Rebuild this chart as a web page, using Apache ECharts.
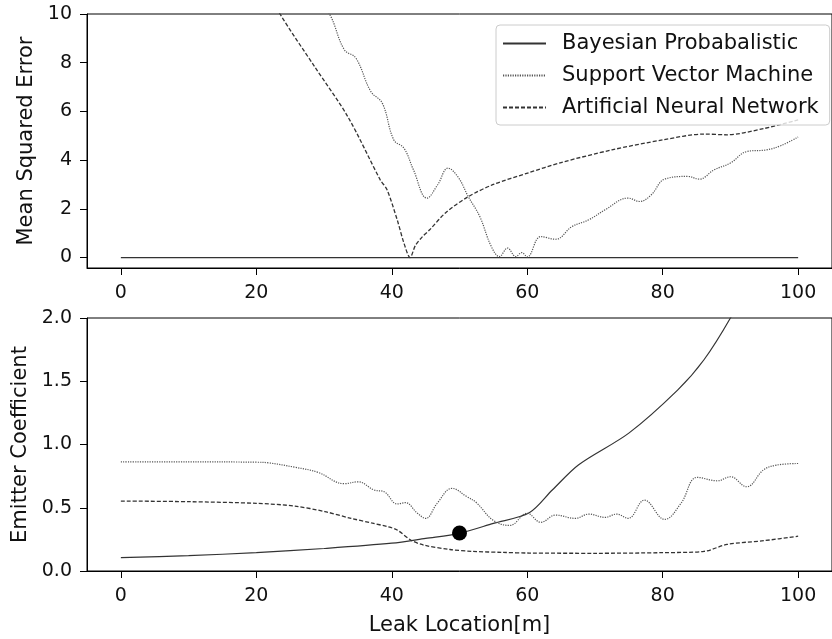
<!DOCTYPE html>
<html>
<head>
<meta charset="utf-8">
<script src="https://cdn.jsdelivr.net/npm/echarts@6/dist/echarts.min.js"></script>
<style>html,body{margin:0;padding:0;background:#fff}#c{width:832px;height:639px}</style>
</head>
<body>
<div id="c"></div>
<script>
// ---------- data ----------
const seriesNames = ['Bayesian Probabalistic', 'Support Vector Machine', 'Artificial Neural Network'];
const xTicks = [0, 20, 40, 60, 80, 100];
const mseTicks = [0, 2, 4, 6, 8, 10];
const ecTicks = [0, 0.5, 1.0, 1.5, 2.0];

// top panel: Mean Squared Error
const mseBayesX = [0, 100];
const mseBayesY = [0, 0];
const mseSvmX = [0, 10, 20, 28, 30.8, 33, 34.7, 36.9, 38.6, 40.3, 41.8, 43.2, 45.2, 46.8, 48.3, 49.8, 51.3, 53, 54.7, 55.9, 57.1, 58.3, 59.2, 60, 62, 64.2, 66.6, 69.1, 71.5, 74.9, 76.6, 78.3, 80.3, 83.7, 85.4, 87.6, 90, 92.4, 95.3, 97.5, 100];
const mseSvmY = [20, 17, 13.5, 11, 10, 8.53, 8.19, 6.82, 6.34, 4.83, 4.49, 3.6, 2.44, 3.0, 3.67, 3.3, 2.5, 1.68, 0.45, 0.04, 0.39, 0.04, 0.2, 0.03, 0.86, 0.75, 1.27, 1.55, 1.96, 2.44, 2.3, 2.57, 3.22, 3.33, 3.22, 3.6, 3.88, 4.35, 4.42, 4.6, 4.95];
const mseAnnX = [0, 10, 20, 23.5, 28.6, 33.5, 38.3, 39.3, 40.8, 41.8, 42.7, 43.5, 44.5, 45.6, 48, 51.3, 55, 60.2, 65, 72.5, 80, 86.1, 89.5, 95, 100];
const mseAnnY = [20.5, 16.3, 11.8, 10, 7.84, 5.79, 3.19, 2.78, 1.55, 0.59, 0, 0.5, 0.85, 1.14, 1.85, 2.5, 3.0, 3.48, 3.9, 4.42, 4.83, 5.07, 5.04, 5.3, 5.65];

// bottom panel: Emitter Coefficient
const ecBayesX = [0, 10, 20, 30, 40, 45, 50, 55, 60.3, 63.7, 67.6, 75, 82.2, 86.1, 90, 95, 100];
const ecBayesY = [0.105, 0.122, 0.145, 0.178, 0.22, 0.258, 0.298, 0.376, 0.46, 0.64, 0.84, 1.09, 1.43, 1.67, 2.0, 2.5, 3.1];
const ecSvmX = [0, 10, 20, 21.8, 25.7, 29.1, 33, 35, 37.4, 38.9, 40.8, 42, 43.8, 45, 46.7, 48.9, 51.1, 52.5, 55, 57.4, 60, 62, 64.2, 67.1, 69.1, 71.5, 73.2, 74.9, 77.3, 80.3, 82.7, 85.1, 88.1, 90, 92.4, 94.9, 96.8, 100];
const ecSvmY = [0.863, 0.863, 0.86, 0.855, 0.82, 0.78, 0.69, 0.705, 0.64, 0.626, 0.53, 0.54, 0.456, 0.416, 0.535, 0.653, 0.587, 0.54, 0.40, 0.36, 0.456, 0.385, 0.442, 0.416, 0.45, 0.424, 0.45, 0.416, 0.56, 0.408, 0.535, 0.74, 0.713, 0.745, 0.666, 0.8, 0.837, 0.85];
const ecAnnX = [0, 10, 20, 25.7, 30.1, 34, 37, 39.4, 40.8, 42.8, 44.7, 48.6, 52, 56.4, 60.3, 70, 80, 86.1, 89.5, 95, 100];
const ecAnnY = [0.553, 0.548, 0.535, 0.513, 0.47, 0.416, 0.38, 0.35, 0.324, 0.245, 0.205, 0.17, 0.155, 0.147, 0.142, 0.14, 0.145, 0.155, 0.21, 0.24, 0.275];
const markerX = [50];
const markerY = [0.3];

// ---------- chart ----------
const zip = (xs, ys) => xs.map((x, i) => [x, ys[i]]);
const FONT = 'DejaVu Sans';
const FS = 19;   // tick labels
const FL = 21;   // axis names / legend
const TXT = '#111';

function xAxis(gridIndex, withName) {
  return {
    type: 'value', gridIndex, min: -5, max: 105,
    axisLine: { show: true, onZero: false, lineStyle: { color: '#000', width: 1 } },
    axisTick: { show: true, length: 7, lineStyle: { color: '#000' }, customValues: xTicks },
    axisLabel: { show: true, fontFamily: FONT, fontSize: FS, color: TXT, margin: 16, customValues: xTicks },
    splitLine: { show: false },
    name: withName ? 'Leak Location[m]' : '',
    nameLocation: 'middle', nameGap: 44,
    nameTextStyle: { fontFamily: FONT, fontSize: FL, color: TXT }
  };
}
function yAxis(gridIndex, min, max, ticks, name, fmt, gap) {
  return {
    type: 'value', gridIndex, min, max,
    axisLine: { show: true, onZero: false, lineStyle: { color: '#000', width: 1 } },
    axisTick: { show: true, length: 7, lineStyle: { color: '#000' }, customValues: ticks },
    axisLabel: { show: true, fontFamily: FONT, fontSize: FS, color: TXT, margin: 15, customValues: ticks, formatter: fmt },
    splitLine: { show: false },
    name, nameLocation: 'middle', nameGap: gap,
    nameTextStyle: { fontFamily: FONT, fontSize: FL, color: TXT }
  };
}

const solid = { color: '#333', width: 1.2, type: 'solid' };
const dotted = { color: '#555', width: 1.2, type: [1.2, 1.2] };
const dashed = { color: '#333', width: 1.3, type: [4, 2] };

function line(name, xi, yi, data, ls, smooth) {
  return {
    name, type: 'line', xAxisIndex: xi, yAxisIndex: yi, data,
    symbol: 'none', showSymbol: false, smooth: smooth, clip: true, lineStyle: ls,
    itemStyle: { color: ls.color }, animation: false
  };
}

const chart = echarts.init(document.getElementById('c'), null, { renderer: 'canvas' });
chart.setOption({
  animation: false,
  backgroundColor: '#fff',
  grid: [
    { left: 87, top: 14, width: 752, height: 254, show: true, borderColor: '#000', borderWidth: 1, containLabel: false },
    { left: 87, top: 318, width: 752, height: 253, show: true, borderColor: '#000', borderWidth: 1, containLabel: false }
  ],
  xAxis: [xAxis(0, false), xAxis(1, true)],
  yAxis: [
    yAxis(0, -0.43, 10, mseTicks, 'Mean Squared Error', v => String(v), 45),
    yAxis(1, 0, 2, ecTicks, 'Emitter Coefficient', v => v.toFixed(1), 52)
  ],
  legend: {
    data: seriesNames,
    orient: 'vertical', left: 496, top: 25,
    itemWidth: 43, itemHeight: 20, itemGap: 11,
    itemStyle: { opacity: 0 },
    padding: [8, 11, 7, 6],
    borderColor: '#ccc', borderWidth: 1, borderRadius: 4, backgroundColor: 'rgba(255,255,255,0.8)',
    textStyle: { fontFamily: FONT, fontSize: FL, color: TXT, padding: [0, 0, 0, 11] }
  },
  series: [
    line(seriesNames[0], 0, 0, zip(mseBayesX, mseBayesY), solid, false),
    line(seriesNames[1], 0, 0, zip(mseSvmX, mseSvmY), dotted, 0.4),
    line(seriesNames[2], 0, 0, zip(mseAnnX, mseAnnY), dashed, 0.3),
    line(seriesNames[0], 1, 1, zip(ecBayesX, ecBayesY), solid, 0.3),
    line(seriesNames[1], 1, 1, zip(ecSvmX, ecSvmY), dotted, 0.4),
    line(seriesNames[2], 1, 1, zip(ecAnnX, ecAnnY), dashed, 0.3),
    {
      type: 'scatter', xAxisIndex: 1, yAxisIndex: 1, data: zip(markerX, markerY),
      symbol: 'circle', symbolSize: 15, itemStyle: { color: '#000', opacity: 1 }, z: 5, animation: false
    }
  ]
});
</script>
</body>
</html>
